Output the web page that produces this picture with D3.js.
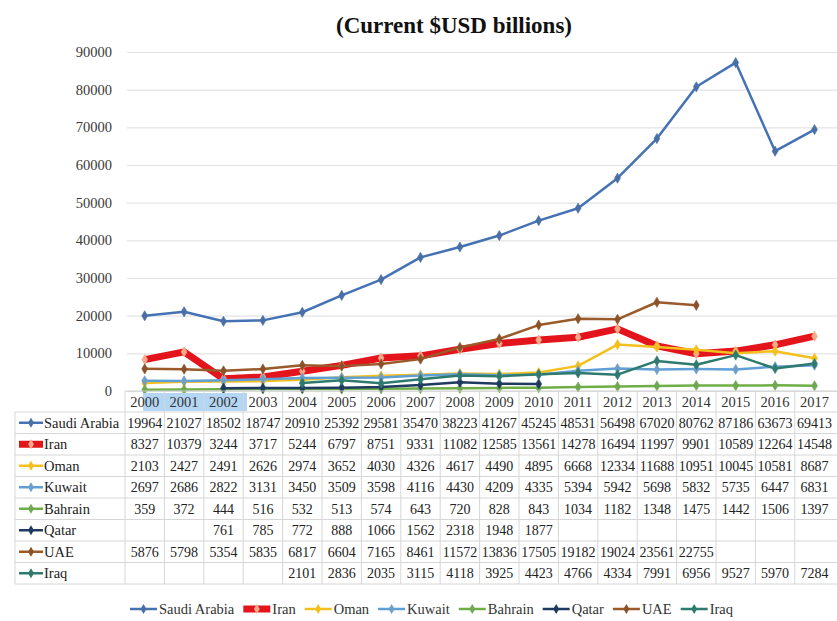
<!DOCTYPE html>
<html>
<head>
<meta charset="utf-8">
<script src="https://cdn.jsdelivr.net/npm/d3@7"></script>
<style>
  body { margin: 0; background: #fff; }
  svg text { font-family: "Liberation Serif", "Times New Roman", serif; }
</style>
</head>
<body>
<div id="chart"></div>
<script>
const years = [2000, 2001, 2002, 2003, 2004, 2005, 2006, 2007, 2008, 2009, 2010, 2011, 2012, 2013, 2014, 2015, 2016, 2017]
const yTicks = [0, 10000, 20000, 30000, 40000, 50000, 60000, 70000, 80000, 90000]

const saudiArabia = [19964, 21027, 18502, 18747, 20910, 25392, 29581, 35470, 38223, 41267, 45245, 48531, 56498, 67020, 80762, 87186, 63673, 69413]
const iran = [8327, 10379, 3244, 3717, 5244, 6797, 8751, 9331, 11082, 12585, 13561, 14278, 16494, 11997, 9901, 10589, 12264, 14548]
const oman = [2103, 2427, 2491, 2626, 2974, 3652, 4030, 4326, 4617, 4490, 4895, 6668, 12334, 11688, 10951, 10045, 10581, 8687]
const kuwait = [2697, 2686, 2822, 3131, 3450, 3509, 3598, 4116, 4430, 4209, 4335, 5394, 5942, 5698, 5832, 5735, 6447, 6831]
const bahrain = [359, 372, 444, 516, 532, 513, 574, 643, 720, 828, 843, 1034, 1182, 1348, 1475, 1442, 1506, 1397]
const qatar = [null, null, 761, 785, 772, 888, 1066, 1562, 2318, 1948, 1877, null, null, null, null, null, null, null]
const uae = [5876, 5798, 5354, 5835, 6817, 6604, 7165, 8461, 11572, 13836, 17505, 19182, 19024, 23561, 22755, null, null, null]
const iraq = [null, null, null, null, 2101, 2836, 2035, 3115, 4118, 3925, 4423, 4766, 4334, 7991, 6956, 9527, 5970, 7284]

const series = [
    { name: 'Saudi Arabia', values: saudiArabia, color: '#4472b4', width: 2.5, marker: '#4a6fa5' },
    { name: 'Iran', values: iran, color: '#e3141b', width: 7, marker: '#f7a98a' },
    { name: 'Oman', values: oman, color: '#f4c01e', width: 2.5, marker: '#f4c01e' },
    { name: 'Kuwait', values: kuwait, color: '#5f9fd6', width: 2.5, marker: '#6d9fc9' },
    { name: 'Bahrain', values: bahrain, color: '#6fae46', width: 2.5, marker: '#6fa852' },
    { name: 'Qatar', values: qatar, color: '#1e3a5f', width: 2.5, marker: '#1e3a5f' },
    { name: 'UAE', values: uae, color: '#9a5a2a', width: 2.5, marker: '#8a5228' },
    { name: 'Iraq', values: iraq, color: '#2f7a6e', width: 2.5, marker: '#2f7a6e' }
]

const W = 837, H = 621
const FONT = '"Liberation Serif", "Times New Roman", serif'
const svg = d3.select('#chart').append('svg')
    .attr('width', W)
    .attr('height', H)
    .attr('font-family', FONT)

const tableLeft = 125
const colW = 39.4
const x = d3.scaleBand()
    .domain(years)
    .range([tableLeft, tableLeft + colW * years.length])
const cx = yr => x(yr) + x.bandwidth() / 2

const y = d3.scaleLinear()
    .domain([0, 90000])
    .range([391, 52])

// title
svg.append('text')
    .attr('x', 454)
    .attr('y', 33)
    .attr('text-anchor', 'middle')
    .attr('font-size', 23)
    .attr('font-weight', 'bold')
    .attr('fill', '#111')
    .text('(Current $USD billions)')

// gridlines + y labels
const yAxis = svg.append('g')
    .attr('transform', 'translate(127,0)')
    .call(d3.axisLeft(y).tickValues(yTicks).tickFormat(d3.format('d')).tickSize(-(W - 127)).tickPadding(15))
yAxis.attr('font-family', FONT)
yAxis.select('.domain').remove()
yAxis.selectAll('.tick line').attr('stroke', '#e3e3e3').attr('stroke-width', 1.2)
yAxis.selectAll('.tick text')
    .attr('font-size', 14.5)
    .attr('fill', '#3a3a3a')

// lines
const line = d3.line()
    .defined(d => d != null)
    .x((d, i) => cx(years[i]))
    .y(d => y(d))

const plot = svg.append('g')
plot.selectAll('path.series')
    .data(series)
    .enter()
    .append('path')
    .attr('class', 'series')
    .attr('fill', 'none')
    .attr('stroke', s => s.color)
    .attr('stroke-width', s => s.width)
    .attr('stroke-linejoin', 'round')
    .attr('d', s => line(s.values))

const diamond = d3.symbol().type(d3.symbolDiamond).size(30)

series.forEach(s => {
    plot.append('g').selectAll('path')
        .data(s.values.map((v, i) => ({ v, yr: years[i] })).filter(d => d.v != null))
        .enter()
        .append('path')
        .attr('d', diamond)
        .attr('transform', d => `translate(${cx(d.yr)},${y(d.v)})`)
        .attr('fill', s.marker)
        .attr('stroke', s.marker)
        .attr('stroke-width', 0.6)
})

// data table
const headTop = 391
const headBottom = 412
const rowH = 21.5
const tableBottom = headBottom + rowH * series.length
const labelLeft = 15

const table = svg.append('g')

// selection highlight on first header cells
table.append('rect')
    .attr('x', 143)
    .attr('y', headTop + 2)
    .attr('width', 104)
    .attr('height', headBottom - headTop - 3)
    .attr('fill', '#b3d6f5')

const gridColor = '#d6d6d6'
// horizontal rules
table.append('line')
    .attr('x1', tableLeft).attr('x2', W)
    .attr('y1', headTop).attr('y2', headTop)
    .attr('stroke', '#cfcfcf')
d3.range(series.length + 1).forEach(i => {
    table.append('line')
        .attr('x1', labelLeft).attr('x2', W)
        .attr('y1', headBottom + i * rowH).attr('y2', headBottom + i * rowH)
        .attr('stroke', gridColor)
})
// vertical rules
table.append('line')
    .attr('x1', labelLeft).attr('x2', labelLeft)
    .attr('y1', headBottom).attr('y2', tableBottom)
    .attr('stroke', gridColor)
years.forEach(yr => {
    table.append('line')
        .attr('x1', x(yr)).attr('x2', x(yr))
        .attr('y1', headTop).attr('y2', tableBottom)
        .attr('stroke', gridColor)
})

// year header
table.selectAll('text.year')
    .data(years)
    .enter()
    .append('text')
    .attr('class', 'year')
    .attr('x', d => cx(d))
    .attr('y', headTop + 16)
    .attr('text-anchor', 'middle')
    .attr('font-size', 14.5)
    .attr('fill', '#333')
    .text(d => d)

function drawKey(g, s, x0, yc, len) {
    g.append('line')
        .attr('x1', x0).attr('x2', x0 + len)
        .attr('y1', yc).attr('y2', yc)
        .attr('stroke', s.color)
        .attr('stroke-width', s.width)
    g.append('path')
        .attr('d', diamond)
        .attr('transform', `translate(${x0 + len / 2},${yc})`)
        .attr('fill', s.marker)
}

series.forEach((s, i) => {
    const yc = headBottom + i * rowH + rowH / 2
    drawKey(table, s, 19, yc, 24)
    table.append('text')
        .attr('x', 44)
        .attr('y', yc + 5)
        .attr('font-size', 14.5)
        .attr('fill', '#222')
        .text(s.name)
    table.append('g').selectAll('text')
        .data(s.values.map((v, j) => ({ v, yr: years[j] })).filter(d => d.v != null))
        .enter()
        .append('text')
        .attr('x', d => cx(d.yr))
        .attr('y', yc + 5)
        .attr('text-anchor', 'middle')
        .attr('font-size', 14)
        .attr('fill', '#222')
        .text(d => d.v)
})

// legend
const legend = svg.append('g')
let lx = 130
const ly = 609
series.forEach(s => {
    drawKey(legend, s, lx, ly, 27)
    const t = legend.append('text')
        .attr('x', lx + 29)
        .attr('y', ly + 5)
        .attr('font-size', 14.5)
        .attr('fill', '#333')
        .text(s.name)
    lx += 29 + t.node().getComputedTextLength() + 9
})
</script>
</body>
</html>
